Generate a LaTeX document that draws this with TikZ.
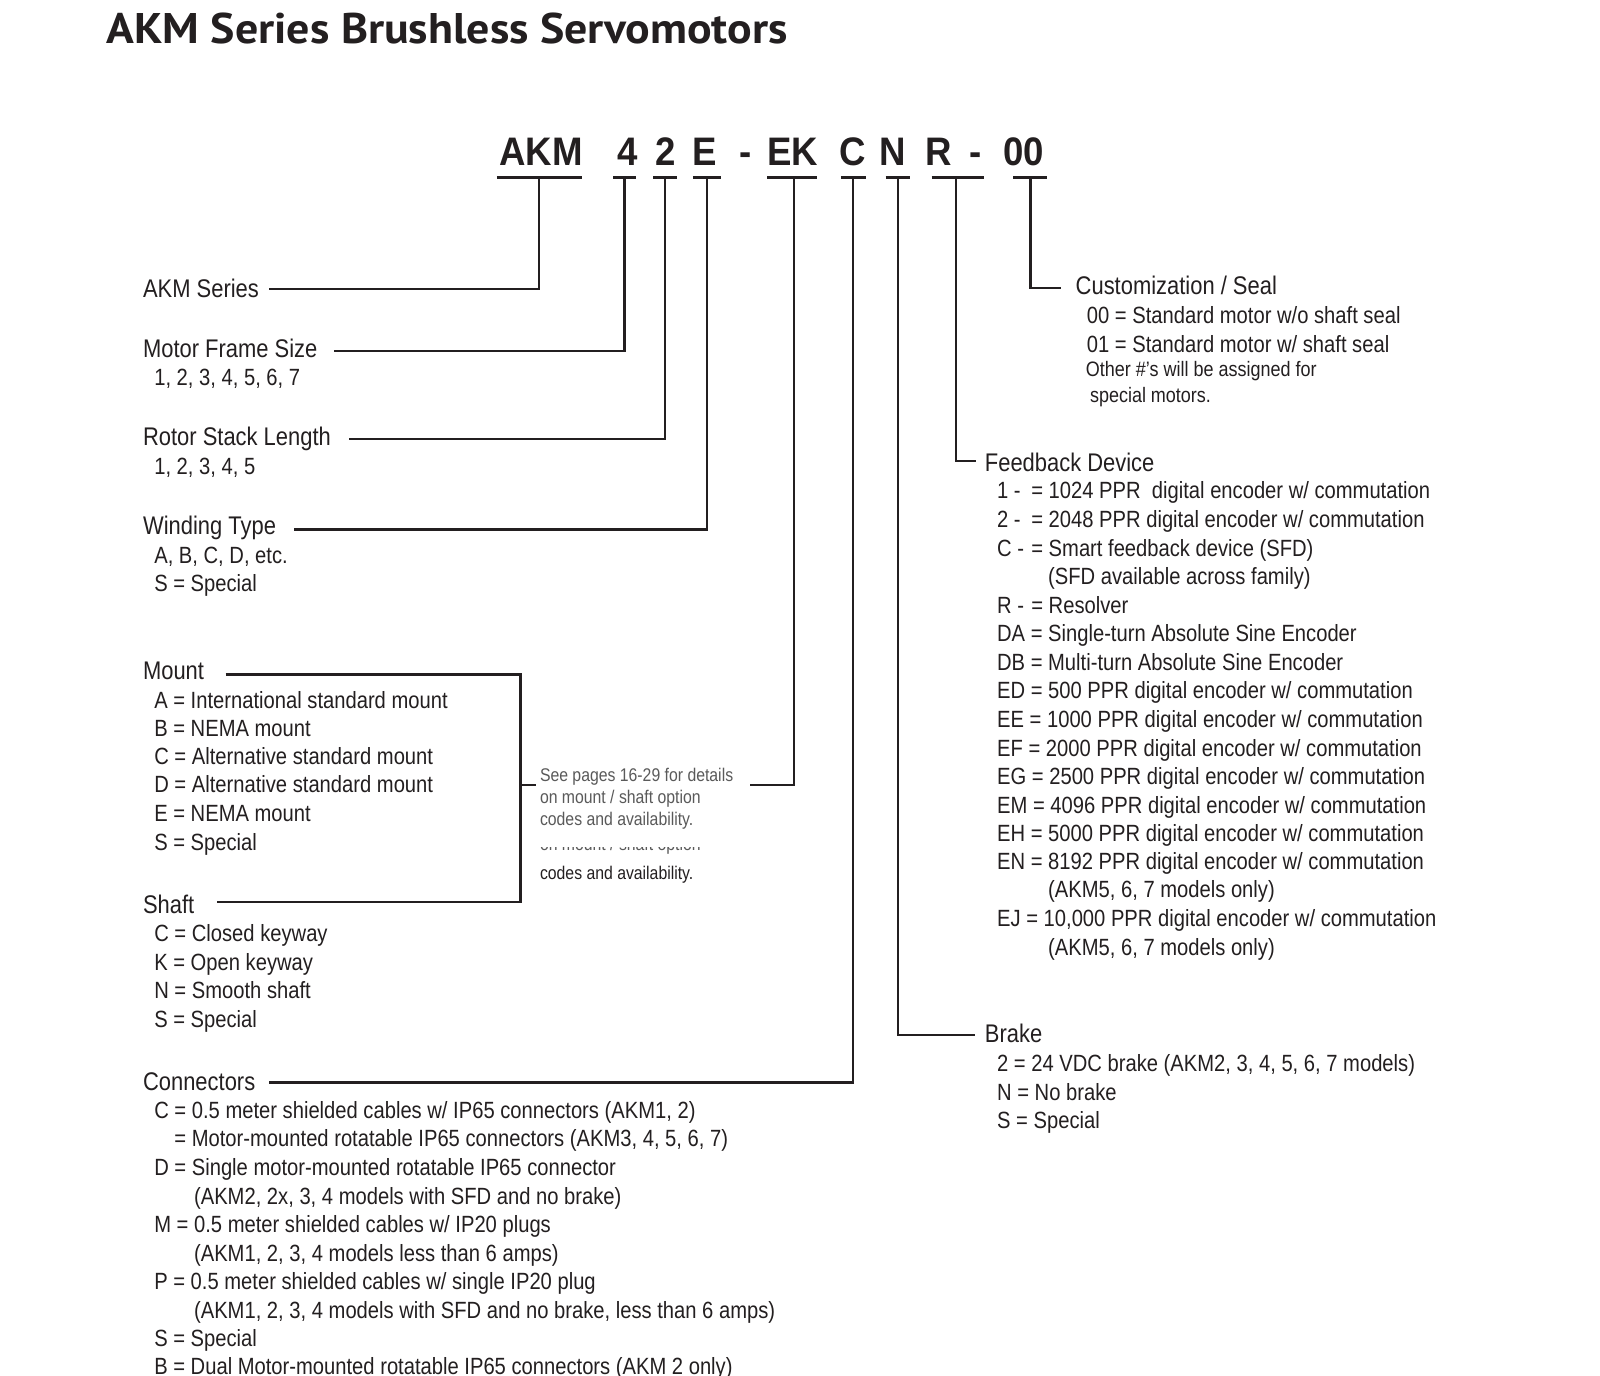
\documentclass[tikz,border=0pt]{standalone}
\usepackage{fontspec}
\setmainfont{Liberation Sans}[FakeStretch=0.86]
\newfontfamily\titlefont{PT Sans}[FakeStretch=1.07]
\newfontfamily\codefont{Liberation Sans}[FakeStretch=0.92]
\definecolor{ink}{HTML}{231F20}
\definecolor{notegray}{HTML}{5A5A5A}
\newcommand{\fbcode}[1]{\makebox[28pt][l]{#1}}
\begin{document}
\begin{tikzpicture}[x=1pt,y=-1pt,
  head/.style={anchor=base west,inner sep=0pt,text=ink,font=\fontsize{25}{25}\selectfont},
  item/.style={anchor=base west,inner sep=0pt,text=ink,font=\fontsize{23}{23}\selectfont},
  smallitem/.style={anchor=base west,inner sep=0pt,text=ink,font=\fontsize{20.5}{20.5}\selectfont},
  note/.style={anchor=base west,inner sep=0pt,text=notegray,font=\fontsize{18}{18}\selectfont},
  codepart/.style={anchor=base,inner sep=0pt,text=ink,font=\codefont\bfseries\fontsize{39}{39}\selectfont},
  wire/.style={draw=ink,line width=2.3pt},
  uline/.style={draw=ink,line width=2.8pt}]
\useasboundingbox (0,0) rectangle (1568,1348);
\fill[white] (0,0) rectangle (1568,1348);

% title
\node[anchor=base west,inner sep=0pt,text=ink,font=\titlefont\bfseries\fontsize{42}{42}\selectfont] (title) at (104,43) {AKM Series Brushless Servomotors};

% code line
\node[codepart] (cAKM) at (530,162) {AKM};
\node[codepart] (c4) at (615,162) {4};
\node[codepart] (c2) at (652,162) {2};
\node[codepart] (cE) at (691,162) {E};
\node[codepart] (cd1) at (731,162) {-};
\node[codepart] (cEK) at (777,162) {EK};
\node[codepart] (cC) at (836,162) {C};
\node[codepart] (cN) at (875,162) {N};
\node[codepart] (cR) at (920,162) {R};
\node[codepart] (cd2) at (956,162) {-};
\node[codepart] (c00) at (1003,162) {00};

% underlines
\draw[uline] (487,174) -- (570,174);
\draw[uline] (601,174) -- (623,174);
\draw[uline] (640,174) -- (663,174);
\draw[uline] (679,174) -- (707,174);
\draw[uline] (752,174) -- (801,174);
\draw[uline] (824,174) -- (849,174);
\draw[uline] (868,174) -- (892,174);
\draw[uline] (913,174) -- (964,174);
\draw[uline] (993,174) -- (1026,174);

\coordinate (tAKM) at (528,174);
\coordinate (t4) at (612,174);
\coordinate (t2) at (652,174);
\coordinate (tE) at (693,174);
\coordinate (tEK) at (778,174);
\coordinate (tC) at (836,174);
\coordinate (tN) at (880,174);
\coordinate (tR) at (937,174);
\coordinate (t00) at (1010,174);

% left headings
\node[head] (hAKM) at (140,292) {AKM Series};
\node[head] (hFrame) at (140,350) {Motor Frame Size};
\node[item] (iFrame) at (151,378) {1, 2, 3, 4, 5, 6, 7};
\node[head] (hRotor) at (140,437) {Rotor Stack Length};
\node[item] (iRotor) at (151,465) {1, 2, 3, 4, 5};
\node[head] (hWind) at (140,524) {Winding Type};
\node[item] (iWind1) at (151,552) {A, B, C, D, etc.};
\node[item] (iWind2) at (151,580) {S = Special};

\node[head] (hMount) at (140,666) {Mount};
\node[item] (m1) at (151,694) {A = International standard mount};
\node[item] (m2) at (151,722) {B = NEMA mount};
\node[item] (m3) at (151,749) {C = Alternative standard mount};
\node[item] (m4) at (151,777) {D = Alternative standard mount};
\node[item] (m5) at (151,805) {E = NEMA mount};
\node[item] (m6) at (151,833) {S = Special};

\node[head] (hShaft) at (140,895) {Shaft};
\node[item] (s1) at (151,923) {C = Closed keyway};
\node[item] (s2) at (151,951) {K = Open keyway};
\node[item] (s3) at (151,979) {N = Smooth shaft};
\node[item] (s4) at (151,1007) {S = Special};

\node[head] (hConn) at (140,1069) {Connectors};
\node[item] (k1) at (151,1096) {C = 0.5 meter shielded cables w/ IP65 connectors (AKM1, 2)};
\node[item] (k2) at (151,1124) {\phantom{C} = Motor-mounted rotatable IP65 connectors (AKM3, 4, 5, 6, 7)};
\node[item] (k3) at (151,1152) {D = Single motor-mounted rotatable IP65 connector};
\node[item] (k4) at (190,1180) {(AKM2, 2x, 3, 4 models with SFD and no brake)};
\node[item] (k5) at (151,1208) {M = 0.5 meter shielded cables w/ IP20 plugs};
\node[item] (k6) at (190,1236) {(AKM1, 2, 3, 4 models less than 6 amps)};
\node[item] (k7) at (151,1264) {P = 0.5 meter shielded cables w/ single IP20 plug};
\node[item] (k8) at (190,1292) {(AKM1, 2, 3, 4 models with SFD and no brake, less than 6 amps)};
\node[item] (k9) at (151,1320) {S = Special};
\node[item] (k10) at (151,1347) {B = Dual Motor-mounted rotatable IP65 connectors (AKM 2 only)};

% note
\node[note] (n1) at (529,766) {See pages 16-29 for details};
\node[note] (n2) at (529,787) {on mount / shaft option};
\node[note] (n3) at (529,809) {codes and availability.};
\begin{scope}
\clip (520,831) rectangle (720,838);
\node[note] (n4) at (529,833) {on mount / shaft option};
\end{scope}
\node[note,text=ink] (n5) at (529,862) {codes and availability.};

% right side
\node[head] (hCust) at (1054,289) {Customization / Seal};
\node[item] (u1) at (1065,317) {00 = Standard motor w/o shaft seal};
\node[item] (u2) at (1065,345) {01 = Standard motor w/ shaft seal};
\node[smallitem] (u3) at (1064,369) {Other \#'s will be assigned for};
\node[smallitem] (u4) at (1068,394) {special motors.};

\node[head] (hFeed) at (965,462) {Feedback Device};
\node[item] (f1) at (977,489) {\fbcode{1 -} = 1024 PPR\ \ digital encoder w/ commutation};
\node[item] (f2) at (977,517) {\fbcode{2 -} = 2048 PPR digital encoder w/ commutation};
\node[item] (f3) at (977,545) {\fbcode{C -} = Smart feedback device (SFD)};
\node[item] (f4) at (1027,573) {(SFD available across family)};
\node[item] (f5) at (977,601) {\fbcode{R -} = Resolver};
\node[item] (f6) at (977,629) {DA = Single-turn Absolute Sine Encoder};
\node[item] (f7) at (977,657) {DB = Multi-turn Absolute Sine Encoder};
\node[item] (f8) at (977,685) {ED = 500 PPR digital encoder w/ commutation};
\node[item] (f9) at (977,713) {EE = 1000 PPR digital encoder w/ commutation};
\node[item] (f10) at (977,741) {EF = 2000 PPR digital encoder w/ commutation};
\node[item] (f11) at (977,769) {EG = 2500 PPR digital encoder w/ commutation};
\node[item] (f12) at (977,797) {EM = 4096 PPR digital encoder w/ commutation};
\node[item] (f13) at (977,825) {EH = 5000 PPR digital encoder w/ commutation};
\node[item] (f14) at (977,852) {EN = 8192 PPR digital encoder w/ commutation};
\node[item] (f15) at (1027,880) {(AKM5, 6, 7 models only)};
\node[item] (f16) at (977,908) {EJ = 10,000 PPR digital encoder w/ commutation};
\node[item] (f17) at (1027,936) {(AKM5, 6, 7 models only)};

\node[head] (hBrake) at (965,1022) {Brake};
\node[item] (b1) at (977,1050) {2 = 24 VDC brake (AKM2, 3, 4, 5, 6, 7 models)};
\node[item] (b2) at (977,1078) {N = No brake};
\node[item] (b3) at (977,1106) {S = Special};

% connector end points
\coordinate (eAKM) at (264,283);
\coordinate (eFrame) at (327,344);
\coordinate (eRotor) at (342,430);
\coordinate (eWind) at (288,519);
\coordinate (eMount) at (221,661);
\coordinate (bkTop) at (510,661);
\coordinate (bkBot) at (510,884);
\coordinate (bkMid) at (510,769);
\coordinate (eShaft) at (213,884);
\coordinate (noteL) at (525,769);
\coordinate (noteR) at (735,769);
\coordinate (eConn) at (264,1061);
\coordinate (eBrake) at (955,1014);
\coordinate (eFeed) at (956,452);
\coordinate (eCust) at (1040,282);

% connectors
\draw[wire] (tAKM) |- (eAKM);
\draw[wire] (t4) |- (eFrame);
\draw[wire] (t2) |- (eRotor);
\draw[wire] (tE) |- (eWind);
\draw[wire] (tEK) |- (noteR);
\draw[wire] (eMount) -- (bkTop) -- (bkBot) -- (eShaft);
\draw[wire] (bkMid) -- (noteL);
\draw[wire] (tC) |- (eConn);
\draw[wire] (tN) |- (eBrake);
\draw[wire] (tR) |- (eFeed);
\draw[wire] (t00) |- (eCust);
\end{tikzpicture}
\end{document}
